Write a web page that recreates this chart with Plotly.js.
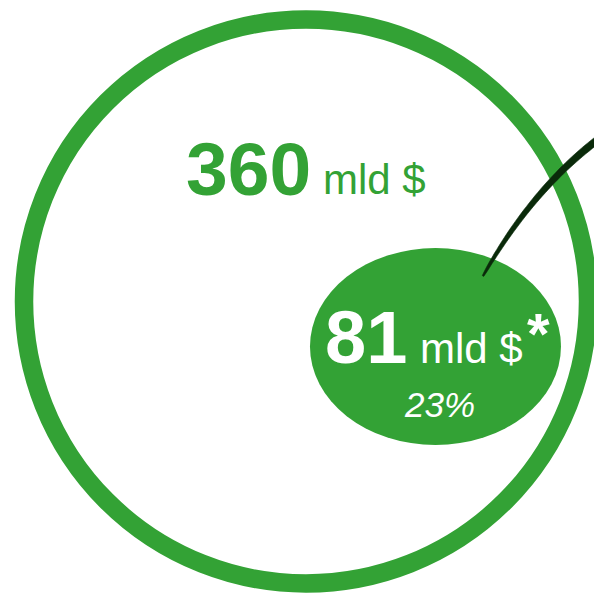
<!DOCTYPE html>
<html>
<head>
<meta charset="utf-8">
<script src="https://cdn.plot.ly/plotly-3.0.1.min.js"></script>
<style>html,body{margin:0;padding:0;background:#fff;}#chart{width:594px;height:593px;}</style>
</head>
<body>
<div id="chart"></div>
<script>
// Data
const totalValue = 360;          // mld $
const partValue = 81;            // mld $
const partShare = 23;            // %
const unitLabel = "mld $";
const footnoteMark = "*";

const GREEN = "#33a235";
const DARK = "#0a2a0a";
const FONT = "Liberation Sans, Arial, sans-serif";

// Geometry (pixel-like data space)
const outer = {cx: 306, cy: 301.5, r: 282, w: 18.5};
const inner = {x0: 310, x1: 561, y0: 248, y1: 445};

// tapered connector (quadratic curve)
const P0 = [483, 276], P1 = [533, 188], P2 = [600, 138];
function q(t){
  const a=(1-t)*(1-t), b=2*(1-t)*t, c=t*t;
  return [a*P0[0]+b*P1[0]+c*P2[0], a*P0[1]+b*P1[1]+c*P2[1]];
}
function dq(t){
  return [2*(1-t)*(P1[0]-P0[0])+2*t*(P2[0]-P1[0]), 2*(1-t)*(P1[1]-P0[1])+2*t*(P2[1]-P1[1])];
}
const N=40, left=[], right=[];
for(let i=0;i<=N;i++){
  const t=i/N, p=q(t), d=dq(t), L=Math.hypot(d[0],d[1]);
  const nx=-d[1]/L, ny=d[0]/L;
  const hw=(1.5+6*Math.pow(t,0.5))/2;
  left.push([p[0]+nx*hw,p[1]+ny*hw]);
  right.push([p[0]-nx*hw,p[1]-ny*hw]);
}
let path="M "+left.map(p=>p[0].toFixed(1)+","+p[1].toFixed(1)).join(" L ");
path+=" L "+right.reverse().map(p=>p[0].toFixed(1)+","+p[1].toFixed(1)).join(" L ")+" Z";

const shapes=[
  {type:"circle", xref:"x", yref:"y", x0:outer.cx-outer.r, x1:outer.cx+outer.r, y0:outer.cy-outer.r, y1:outer.cy+outer.r,
   line:{color:GREEN, width:outer.w}, fillcolor:"rgba(0,0,0,0)", layer:"below"},
  {type:"circle", xref:"x", yref:"y", x0:inner.x0, x1:inner.x1, y0:inner.y0, y1:inner.y1,
   line:{width:0}, fillcolor:GREEN, layer:"below"},
  {type:"path", xref:"x", yref:"y", path:path, fillcolor:DARK, line:{color:DARK, width:0.6}, layer:"above"}
];

function ann(text, x, y, size, color, opts){
  return Object.assign({text:text, x:x, y:y, xref:"x", yref:"y", showarrow:false,
    xanchor:"left", yanchor:"bottom", borderpad:0,
    font:{family:FONT, size:size, color:color}}, opts||{});
}

const annotations=[
  ann("<b>"+totalValue+"</b>", 185, 212, 75, GREEN),
  ann(unitLabel, 322, 204, 42, GREEN),
  ann("<b>"+partValue+"</b>", 324, 380, 74, "#fff"),
  ann(unitLabel, 419, 373, 42, "#fff"),
  ann("<b>"+footnoteMark+"</b>", 526, 367, 58, "#fff"),
  ann("<i>"+partShare+"%</i>", 439, 425, 35, "#fff", {xanchor:"center"})
];

Plotly.newPlot("chart", [{x:[], y:[], type:"scatter"}], {
  width:594, height:593, margin:{l:0,r:0,t:0,b:0},
  paper_bgcolor:"#fff", plot_bgcolor:"#fff",
  xaxis:{range:[0,594], visible:false, fixedrange:true},
  yaxis:{range:[593,0], visible:false, fixedrange:true},
  shapes:shapes, annotations:annotations, showlegend:false
}, {staticPlot:true, displayModeBar:false});
</script>
</body>
</html>
